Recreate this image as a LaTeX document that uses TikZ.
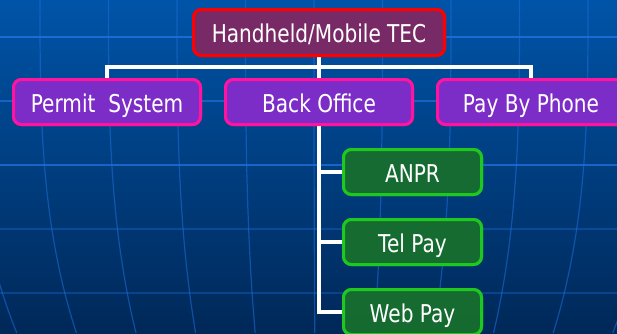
\documentclass[tikz,border=0pt]{standalone}
\usepackage{fontspec}
\setmainfont{DejaVu Sans}[FakeStretch=0.82]
\definecolor{bgtop}{RGB}{0,84,168}
\definecolor{bgbot}{RGB}{0,40,88}
\definecolor{gridc}{RGB}{30,110,220}
\definecolor{topfill}{RGB}{122,42,102}
\definecolor{topline}{RGB}{255,0,0}
\definecolor{purfill}{RGB}{126,44,200}
\definecolor{purline}{RGB}{255,20,160}
\definecolor{grnfill}{RGB}{22,108,48}
\definecolor{grnline}{RGB}{30,200,30}
\tikzset{
  box/.style={rounded corners=8pt, line width=3pt, text=white,
    font=\fontsize{24.5}{29}\selectfont, text height=20pt, text depth=0pt,
    inner sep=0pt, fill opacity=0.88, text opacity=1},
  topbox/.style={box, draw=topline, fill=topfill, minimum width=251pt, minimum height=46pt},
  purbox/.style={box, draw=purline, fill=purfill, minimum width=187pt, minimum height=45pt},
  grnbox/.style={box, draw=grnline, fill=grnfill, minimum width=138pt, minimum height=45pt},
  conn/.style={draw=white, line width=4pt, line join=miter},
  gridline/.style={draw=gridc, line width=1.2pt},
}
\begin{document}
\begin{tikzpicture}[x=1pt,y=-1pt]
\useasboundingbox (0,0) rectangle (617,333);
\clip (0,0) rectangle (617,333);
\shade[top color=bgtop, bottom color=bgbot] (0,0) rectangle (617,333);
% background grid
\foreach \xo in {-28.5,40,108.5,177,245.5,314,382.5,451,519.5,588,656.5}
  \draw[gridline, opacity=0.55] plot[domain=0:333, samples=30, variable=\t]
    ({\xo + (320-\xo)*0.13*(\t/333)^3}, \t);
\draw[gridline, opacity=0.9] (0,37) -- (617,37);
\draw[gridline, opacity=0.7] (0,101) -- (617,101);
\draw[gridline, opacity=0.8] (0,165) -- (617,165);
\draw[gridline, opacity=0.35] (0,229) -- (617,229);
\draw[gridline, opacity=0.35] (0,293) -- (617,293);
% nodes
\path
  node[topbox] (top)    at (319,32.5) {Handheld/Mobile TEC}
  node[purbox] (permit) at (107,102)  {Permit\ \ System}
  node[purbox] (back)   at (319,102)  {Back Office}
  node[purbox] (phone)  at (531,102)  {Pay By Phone}
  node[grnbox] (anpr)   at (412.5,172) {ANPR}
  node[grnbox] (tel)    at (412.5,242) {Tel Pay}
  node[grnbox] (web)    at (412.5,312) {Web Pay};
% connectors
\coordinate (hL) at (107,67);
\coordinate (hR) at (531,67);
\draw[conn] (permit.north) -- (hL) -- (hR) -- (phone.north);
\draw[conn] (top.south) -- (back.north);
\draw[conn] (back.south) -- (back.south |- web.west) -- (web.west);
\draw[conn] (back.south |- anpr.west) -- (anpr.west);
\draw[conn] (back.south |- tel.west) -- (tel.west);
% redraw boxes over connectors
\path
  node[topbox] at (top)    {Handheld/Mobile TEC}
  node[purbox] at (permit) {Permit\ \ System}
  node[purbox] at (back)   {Back Office}
  node[purbox] at (phone)  {Pay By Phone}
  node[grnbox] at (anpr)   {ANPR}
  node[grnbox] at (tel)    {Tel Pay}
  node[grnbox] at (web)    {Web Pay};
\end{tikzpicture}
\end{document}
